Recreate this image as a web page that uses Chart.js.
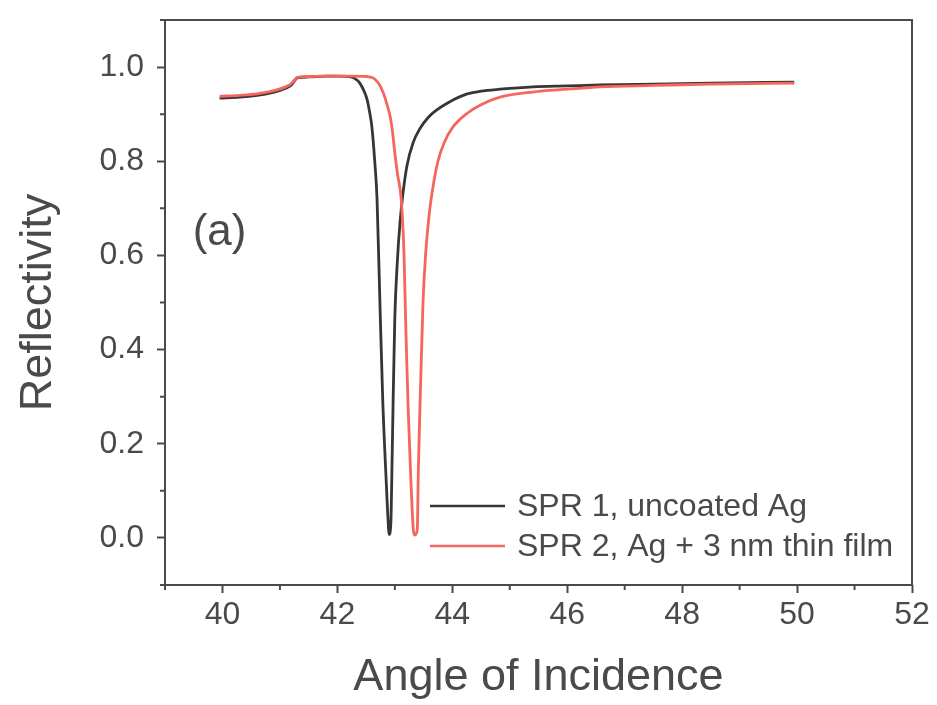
<!DOCTYPE html>
<html>
<head>
<meta charset="utf-8">
<title>Reflectivity vs Angle of Incidence</title>
<script src="https://cdn.jsdelivr.net/npm/chart.js@4.4.1/dist/chart.umd.min.js"></script>
<style>
    html, body { margin: 0; padding: 0; background: #fff; }
    #wrap { width: 937px; height: 705px; }
</style>
</head>
<body>
<div id="wrap"><canvas id="spr"></canvas></div>
<script>
// values
const seriesNames = ['SPR 1, uncoated Ag', 'SPR 2, Ag + 3 nm thin film'];

const uncoatedAngles = [39.95, 40.3, 40.6, 40.9, 41.1, 41.2, 41.25, 41.3, 41.5, 41.8, 42.0, 42.2, 42.3, 42.39, 42.46, 42.52, 42.56, 42.6, 42.65, 42.69, 42.74, 42.79, 42.85, 42.89, 42.9, 42.93, 42.95, 42.97, 43.0, 43.04, 43.09, 43.14, 43.21, 43.32, 43.44, 43.58, 43.73, 43.95, 44.26, 44.5, 44.83, 45.4, 46.0, 46.57, 47.5, 48.5, 49.95];
const uncoatedRefl = [0.934, 0.936, 0.940, 0.947, 0.955, 0.962, 0.970, 0.977, 0.979, 0.981, 0.981, 0.980, 0.976, 0.966, 0.950, 0.930, 0.905, 0.873, 0.80, 0.72, 0.50, 0.29, 0.12, 0.02, 0.007, 0.03, 0.15, 0.29, 0.47, 0.58, 0.67, 0.73, 0.79, 0.84, 0.87, 0.893, 0.909, 0.926, 0.943, 0.949, 0.953, 0.958, 0.960, 0.962, 0.964, 0.966, 0.968];

const filmAngles = [39.95, 40.3, 40.6, 40.9, 41.1, 41.2, 41.25, 41.3, 41.5, 41.8, 42.2, 42.5, 42.62, 42.72, 42.8, 42.86, 42.92, 42.96, 43.0, 43.05, 43.11, 43.16, 43.19, 43.23, 43.28, 43.32, 43.35, 43.39, 43.41, 43.44, 43.49, 43.54, 43.6, 43.67, 43.75, 43.86, 44.0, 44.26, 44.5, 44.83, 45.4, 46.0, 46.57, 47.5, 48.5, 49.95];
const filmRefl = [0.938, 0.940, 0.943, 0.950, 0.958, 0.965, 0.972, 0.978, 0.980, 0.981, 0.981, 0.980, 0.977, 0.965, 0.945, 0.922, 0.894, 0.862, 0.817, 0.77, 0.72, 0.60, 0.45, 0.28, 0.12, 0.02, 0.006, 0.017, 0.15, 0.29, 0.50, 0.61, 0.69, 0.75, 0.80, 0.84, 0.871, 0.902, 0.92, 0.936, 0.947, 0.953, 0.958, 0.961, 0.964, 0.966];

const xTickLabels = ['40', '42', '44', '46', '48', '50', '52'];
const yTickLabels = ['0.0', '0.2', '0.4', '0.6', '0.8', '1.0'];

const lineBlack = '#363636';
const lineRed = '#f4665e';
const ink = '#4a4a4a';
const fontFamily = '"Liberation Sans", Arial, sans-serif';

function toPoints(xs, ys) {
    return xs.map((x, i) => ({ x: x, y: ys[i] }));
}

function isMajorX(v) {
    return xTickLabels.indexOf(String(Math.round(v))) !== -1 && Math.abs(v - Math.round(v)) < 1e-6;
}
function yLabel(v) {
    const s = (Math.round(v * 10) / 10).toFixed(1);
    return yTickLabels.indexOf(s) !== -1 ? s : '';
}

// frame, minor ticks, legend and the "(a)" tag
const framePlugin = {
    id: 'frame',
    afterDraw(chart) {
        const ctx = chart.ctx;
        const a = chart.chartArea;
        const xs = chart.scales.x;
        const ys = chart.scales.y;
        ctx.save();
        ctx.strokeStyle = ink;
        ctx.lineWidth = 2;
        ctx.strokeRect(a.left, a.top, a.right - a.left, a.bottom - a.top);

        // minor ticks
        ctx.beginPath();
        xs.ticks.forEach(t => {
            if (!isMajorX(t.value)) {
                const px = xs.getPixelForValue(t.value);
                ctx.moveTo(px, a.bottom);
                ctx.lineTo(px, a.bottom + 5);
            }
        });
        ys.ticks.forEach(t => {
            if (yLabel(t.value) === '') {
                const py = ys.getPixelForValue(t.value);
                ctx.moveTo(a.left, py);
                ctx.lineTo(a.left - 5, py);
            }
        });
        ctx.stroke();

        // legend
        const colors = [lineBlack, lineRed];
        ctx.font = '32px ' + fontFamily;
        ctx.textBaseline = 'middle';
        ctx.textAlign = 'left';
        seriesNames.forEach((name, i) => {
            const ly = a.bottom - 79 + i * 40;
            ctx.strokeStyle = colors[i];
            ctx.lineWidth = 2.5;
            ctx.beginPath();
            ctx.moveTo(a.left + 265, ly);
            ctx.lineTo(a.left + 340, ly);
            ctx.stroke();
            ctx.fillStyle = ink;
            ctx.fillText(name, a.left + 352, ly + 1);
        });

        // panel tag
        ctx.font = '44px ' + fontFamily;
        ctx.textAlign = 'center';
        ctx.fillText('(a)', xs.getPixelForValue(39.95), ys.getPixelForValue(0.648));
        ctx.restore();
    }
};

new Chart(document.getElementById('spr').getContext('2d'), {
    type: 'line',
    data: {
        datasets: [
            {
                label: seriesNames[1],
                data: toPoints(filmAngles, filmRefl),
                borderColor: lineRed,
                borderWidth: 2.8,
                pointRadius: 0,
                cubicInterpolationMode: 'monotone',
                fill: false
            },
            {
                label: seriesNames[0],
                data: toPoints(uncoatedAngles, uncoatedRefl),
                borderColor: lineBlack,
                borderWidth: 2.8,
                pointRadius: 0,
                cubicInterpolationMode: 'monotone',
                fill: false
            }
        ]
    },
    options: {
        responsive: true,
        maintainAspectRatio: false,
        animation: false,
        layout: { padding: { top: 20, right: 25, bottom: 0, left: 12 } },
        plugins: {
            legend: { display: false },
            tooltip: { enabled: false }
        },
        scales: {
            x: {
                type: 'linear',
                min: 39,
                max: 52,
                afterFit: scale => {
                    scale.height = 120;
                    scale.paddingLeft = 0;
                    scale.paddingRight = 0;
                },
                ticks: {
                    stepSize: 1,
                    autoSkip: false,
                    maxRotation: 0,
                    padding: 3,
                    color: ink,
                    font: { family: fontFamily, size: 32 },
                    callback: v => isMajorX(v) ? String(Math.round(v)) : ''
                },
                grid: {
                    drawOnChartArea: false,
                    drawTicks: true,
                    tickLength: 8,
                    tickWidth: 2,
                    color: c => (c.tick && isMajorX(c.tick.value)) ? ink : 'rgba(0,0,0,0)'
                },
                border: { display: false },
                title: {
                    display: true,
                    text: 'Angle of Incidence',
                    color: ink,
                    padding: 0,
                    font: { family: fontFamily, size: 45, lineHeight: 1.2 }
                }
            },
            y: {
                min: -0.1,
                max: 1.1,
                afterFit: scale => {
                    scale.width = 153;
                    scale.paddingTop = 0;
                    scale.paddingBottom = 0;
                },
                ticks: {
                    stepSize: 0.1,
                    autoSkip: false,
                    padding: 13,
                    color: ink,
                    font: { family: fontFamily, size: 32 },
                    callback: v => yLabel(v)
                },
                grid: {
                    drawOnChartArea: false,
                    drawTicks: true,
                    tickLength: 8,
                    tickWidth: 2,
                    color: c => (c.tick && yLabel(c.tick.value) !== '') ? ink : 'rgba(0,0,0,0)'
                },
                border: { display: false },
                title: {
                    display: true,
                    text: 'Reflectivity',
                    color: ink,
                    padding: 0,
                    font: { family: fontFamily, size: 45, lineHeight: 1.2 }
                }
            }
        }
    },
    plugins: [framePlugin]
});
</script>
</body>
</html>
